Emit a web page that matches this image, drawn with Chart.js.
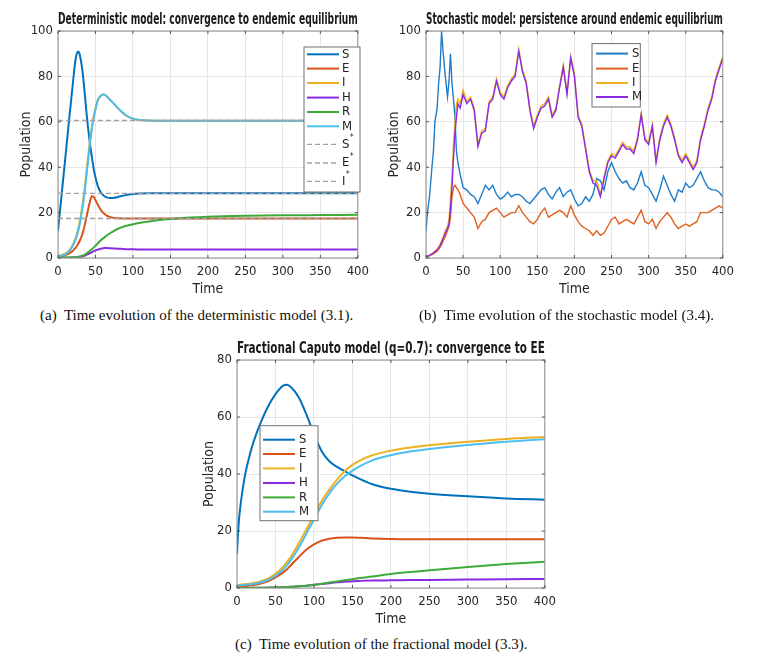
<!DOCTYPE html>
<html>
<head>
<meta charset="utf-8">
<script src="https://cdn.jsdelivr.net/npm/chart.js@4.4.1/dist/chart.umd.min.js"></script>
<style>
body { margin: 0; background: #fff; width: 772px; height: 657px; position: relative; overflow: hidden; }
.box { position: absolute; }
.cap { position: absolute; font-family: 'Liberation Serif', 'Times New Roman', serif; font-size: 15px; line-height: 17px; color: #111; white-space: pre; }
</style>
</head>
<body>
<div class="box" id="wa" style="left:0px;top:0px;width:375px;height:298px"><canvas id="ca"></canvas></div>
<div class="box" id="wb" style="left:368px;top:0px;width:372px;height:298px"><canvas id="cb"></canvas></div>
<div class="box" id="wc" style="left:179px;top:328.5px;width:383px;height:299px"><canvas id="cc"></canvas></div>
<div class="cap" style="left:40px;top:307px">(a)  Time evolution of the deterministic model (3.1).</div>
<div class="cap" style="left:419px;top:307px">(b)  Time evolution of the stochastic model (3.4).</div>
<div class="cap" style="left:235px;top:636px">(c)  Time evolution of the fractional model (3.3).</div>
<script>
// (a) deterministic model
const tA = [0,5,10,15,20,23,25,27,29,32,35,38,42,45,48,50,53,57,60,62,65,70,75,80,90,100,110,120,135,150,175,200,250,300,350,400];
const sA = [12,28.5,45,61.5,77.5,86.5,90,91,89.5,84,75,64,52,45,38.5,35.5,31.8,29,27.8,27.2,26.7,26.4,26.5,26.9,27.7,28.2,28.4,28.5,28.5,28.5,28.5,28.5,28.5,28.5,28.5,28.5];
const eA = [0.5,0.8,1.3,2,3.2,4.3,5.2,6.3,7.6,10,13.5,18,24,27.2,26.8,25.5,23.5,21.2,20,19.4,18.7,18,17.6,17.5,17.4,17.4,17.4,17.4,17.4,17.4,17.4,17.4,17.4,17.4,17.4,17.4];
const iA = [1,1.3,2,3.3,6,8.5,10.5,13,16,22,29,38,50,57.5,63,66,69.5,71.5,72,71.9,71.3,69.5,67.8,66,63,61.4,60.8,60.6,60.5,60.5,60.5,60.5,60.5,60.5,60.5,60.5];
const hA = [0.1,0.1,0.1,0.1,0.2,0.3,0.3,0.4,0.5,0.7,1,1.4,2,2.5,3,3.3,3.7,4.1,4.3,4.4,4.4,4.3,4.2,4.1,3.9,3.8,3.75,3.7,3.7,3.7,3.7,3.7,3.7,3.7,3.7,3.7];
const rA = [0.2,0.2,0.2,0.3,0.3,0.4,0.5,0.6,0.7,1,1.4,2,3,3.8,4.8,5.4,6.4,7.8,8.6,9.1,9.9,11,12,12.9,14.1,14.9,15.5,16,16.7,17.2,17.8,18.2,18.6,18.8,18.9,19];
const mA = [0.8,1.1,1.7,3,5.5,7.8,9.6,12,15,20.5,27.5,36.5,48.5,56.5,62.5,65.5,69.3,71.4,72,71.9,71.3,69.5,67.8,66,63,61.4,60.8,60.6,60.5,60.5,60.5,60.5,60.5,60.5,60.5,60.5];
const eqT = [0, 400];
const eqA = [28.5, 17.4, 60.6];   // S*, E*, I*

// (b) stochastic model
const tB = [0,2,5,8,10,12,15,17,19,21,23,26,29,31,33,35,37,39,41,43,46,50,
  55,60,65,70,75,80,85,90,95,100,105,110,115,120,125,130,135,140,145,150,155,160,165,170,175,180,185,190,195,200,
  205,210,215,220,225,230,235,240,245,250,255,260,265,270,275,280,285,290,295,300,305,310,315,320,325,330,335,340,345,350,
  355,360,365,370,375,380,385,390,395,400];
const sB = [12,20,28,40,47,60,66,77,84,100,91,80,71,78,90,77,70,62,47,42,37,31,
  30,28,27,24,28,32,30,32,28,26,27,29,27,28,28,27,25,24,26,28,30,31,28,26,29,31,27,29,30,26,
  23,24,27,25,28,35,34,30,38,42,38,35,33,34,31,30,33,38,32,31,28,25,30,36,32,28,25,30,29,33,
  31,32,35,38,34,31,30,30,29,27];
const eB = [0.4,0.6,1,1.5,1.8,2.3,3,3.8,4.8,6,7.5,9.5,12,14,18,27,31,32,31,30,28,24,
  22,20,18,13,16,17,20,21,22,20,18,19,20,20,23,20,18,16,15,17,20,22,18,19,20,21,20,18,23,19,
  16,14,13,12,10,12,10,11,14,17,18,15,16,17,16,15,18,21,16,15,17,13,16,18,20,18,15,13,14,15,
  14,15,16,20,20,20,21,22,23,22];
const iB = [0.6,0.9,1.3,2,2.4,3,3.8,4.8,6,7.5,9,12,14,17,26,36,50,60,68,70,68,74,
  69,71,66,50,56,57,69,71,79,73,71,76,79,81,92,83,78,66,58,63,67,68,71,63,66,76,85,73,89,81,
  63,59,49,39,34,34,28,36,43,46,45,48,51,49,49,47,53,64,53,51,59,43,53,59,63,59,53,46,43,46,
  43,40,43,53,59,66,71,79,84,89];
const mB = [0.5,0.8,1.2,1.8,2.2,2.8,3.5,4.5,5.5,7,8.5,11,13,15,22,31,44,55,62,68,66,72,
  68,70,65,49,55,56,68,70,78,72,70,75,78,80,91,82,77,65,57,62,66,67,70,62,65,75,84,72,88,80,
  62,58,48,38,33,32,27,35,42,45,44,47,50,48,48,46,52,63,52,50,58,42,52,58,62,58,52,45,42,45,
  42,39,42,52,58,65,70,78,83,88];

// (c) fractional Caputo model, q = 0.7
const tC = [0,2,5,10,15,20,25,30,40,50,60,65,70,80,90,100,110,120,130,140,150,160,175,200,225,250,300,350,400];
const sC = [12,22,30,39,45,50,54,57.5,63.5,68,71,71.3,70.5,67,61,54,48,44.5,42.5,41,39.5,38.2,36.5,34.8,33.8,33.1,32.2,31.4,31];
const eC = [0.5,0.5,0.6,0.7,0.8,1,1.2,1.5,2.3,3.7,5.5,6.6,8,10.8,13.4,15.3,16.6,17.3,17.6,17.7,17.7,17.6,17.4,17.2,17.1,17.1,17.1,17.1,17.1];
const iC = [1,1.1,1.2,1.3,1.5,1.7,1.9,2.3,3.3,5,7.5,9.2,11,15.5,20.5,25.5,30.5,34.5,38,41,43.2,44.8,46.5,48.2,49.3,50.1,51.3,52.3,53];
const hC = [0,0,0,0,0,0.05,0.05,0.05,0.1,0.2,0.3,0.35,0.4,0.6,0.8,1.1,1.4,1.7,2,2.2,2.4,2.5,2.6,2.7,2.8,2.85,2.95,3.05,3.2];
const rC = [0,0,0,0,0.05,0.05,0.1,0.1,0.15,0.2,0.3,0.35,0.4,0.6,0.8,1.1,1.5,1.9,2.3,2.7,3.1,3.5,4,4.9,5.6,6.2,7.4,8.4,9.2];
const mC = [0.8,0.9,1,1.1,1.2,1.4,1.6,1.9,2.8,4.3,6.5,8,9.8,14,19,24,29,33.2,36.6,39.2,41.2,42.8,44.7,46.6,47.9,48.8,50.2,51.3,52.2];

const xTicks = [0, 400, 50];
const FONT = "'Liberation Sans Narrow', 'DejaVu Sans Condensed', 'Liberation Sans', sans-serif";
const C = { S: '#0072BD', E: '#D95319', I: '#EDB120', H: '#8A2BE2', R: '#3DAA3A', M: '#4DBEEE', eq: '#a0a0a0' };

function pts(t, v) { return t.map((x, k) => ({ x: x, y: v[k] })); }

function line(label, t, v, color, w, extra) {
    return Object.assign({
        label: label, data: pts(t, v), borderColor: color, backgroundColor: color,
        borderWidth: w, pointRadius: 0, fill: false, cubicInterpolationMode: 'monotone'
    }, extra || {});
}

// later series drawn on top, as in MATLAB
function stack(list) {
    list.forEach((ds, i) => { ds.order = -i; });
    return list;
}

// frame with inward ticks round the axes, and a legend box inside the plot
const boxLegend = {
    id: 'boxLegend',
    afterDatasetsDraw(chart, args, o) {
        const { ctx, chartArea: a, scales } = chart;
        ctx.save();
        ctx.strokeStyle = '#8c8c8c';
        ctx.lineWidth = 1;
        ctx.strokeRect(a.left, a.top, a.right - a.left, a.bottom - a.top);
        ctx.strokeStyle = '#555';
        ctx.beginPath();
        scales.x.ticks.forEach(t => {
            const px = scales.x.getPixelForValue(t.value);
            ctx.moveTo(px, a.bottom); ctx.lineTo(px, a.bottom - 3);
            ctx.moveTo(px, a.top); ctx.lineTo(px, a.top + 3);
        });
        scales.y.ticks.forEach(t => {
            const py = scales.y.getPixelForValue(t.value);
            ctx.moveTo(a.left, py); ctx.lineTo(a.left + 3, py);
            ctx.moveTo(a.right, py); ctx.lineTo(a.right - 3, py);
        });
        ctx.stroke();

        const x0 = a.left + o.x, y0 = a.top + o.y;
        ctx.fillStyle = '#fff';
        ctx.fillRect(x0, y0, o.w, o.h);
        ctx.strokeStyle = '#707070';
        ctx.lineWidth = 1;
        ctx.strokeRect(x0, y0, o.w, o.h);
        ctx.font = '13px ' + FONT;
        ctx.textBaseline = 'middle';
        chart.data.datasets.forEach((ds, i) => {
            const cy = y0 + o.rows[i];
            ctx.strokeStyle = ds.borderColor;
            ctx.lineWidth = o.lw || ds.borderWidth;
            ctx.setLineDash(ds.borderDash || []);
            ctx.beginPath();
            ctx.moveTo(x0 + o.l1, cy);
            ctx.lineTo(x0 + o.l2, cy);
            ctx.stroke();
            ctx.setLineDash([]);
            ctx.fillStyle = '#222';
            let txt = ds.label;
            if (txt.endsWith('*')) {
                txt = txt.slice(0, -1);
                ctx.fillText(txt, x0 + o.tx, cy);
                const wd = ctx.measureText(txt).width;
                ctx.font = '8px ' + FONT;
                ctx.fillText('*', x0 + o.tx + wd + 0.5, cy - 6);
                ctx.font = '13px ' + FONT;
            } else {
                ctx.fillText(txt, x0 + o.tx, cy);
            }
        });
        ctx.restore();
    }
};

function makeChart(id, title, datasets, yMax, legend, yPad) {
    return new Chart(document.getElementById(id), {
        type: 'line',
        data: { datasets: stack(datasets) },
        plugins: [boxLegend],
        options: {
            responsive: true,
            maintainAspectRatio: false,
            animation: false,
            layout: { padding: { left: 0, right: 14, top: 0, bottom: 0 } },
            plugins: {
                legend: { display: false },
                tooltip: { enabled: false },
                title: {
                    display: true, text: title, fullSize: false, color: '#1a1a1a',
                    font: { family: FONT, size: 15, weight: 'bold' },
                    padding: { top: 11, bottom: 2 }
                },
                boxLegend: legend
            },
            scales: {
                x: {
                    type: 'linear', min: xTicks[0], max: xTicks[1],
                    ticks: { stepSize: xTicks[2], color: '#262626', padding: 6, font: { family: FONT, size: 13 } },
                    grid: { color: '#e6e6e6', drawTicks: false },
                    border: { display: false },
                    title: { display: true, text: 'Time', color: '#262626', font: { family: FONT, size: 14 }, padding: { top: 0, bottom: 0 } },
                    afterFit: s => { s.height = 40; }
                },
                y: {
                    min: 0, max: yMax,
                    ticks: { stepSize: 20, color: '#262626', padding: 5, font: { family: FONT, size: 13 } },
                    grid: { color: '#e6e6e6', drawTicks: false },
                    border: { display: false },
                    title: { display: true, text: 'Population', color: '#262626', font: { family: FONT, size: 14 }, padding: { top: yPad, bottom: 0 } },
                    afterFit: s => { s.width = 58; }
                }
            }
        }
    });
}

const dashed = { borderDash: [5, 3], cubicInterpolationMode: 'default' };
makeChart('ca', 'Deterministic model: convergence to endemic equilibrium', [
    line('S', tA, sA, C.S, 2),
    line('E', tA, eA, C.E, 2),
    line('I', tA, iA, C.I, 2),
    line('H', tA, hA, C.H, 2),
    line('R', tA, rA, C.R, 2),
    line('M', tA, mA, C.M, 2),
    line('S*', eqT, [eqA[0], eqA[0]], C.eq, 1.3, dashed),
    line('E*', eqT, [eqA[1], eqA[1]], C.eq, 1.3, dashed),
    line('I*', eqT, [eqA[2], eqA[2]], C.eq, 1.3, dashed)
], 100, { x: 246, y: 16, w: 56, h: 145, l1: 3, l2: 35, tx: 38, rows: [7.3, 21.6, 36, 50.6, 65, 79.3, 97.3, 116, 134.3] }, 17.6);

const thin = { cubicInterpolationMode: 'default' };
makeChart('cb', 'Stochastic model: persistence around endemic equilibrium', [
    line('S', tB, sB, '#1f7cc8', 1.4, thin),
    line('E', tB, eB, '#e0601e', 1.4, thin),
    line('I', tB, iB, C.I, 1.4, thin),
    line('M', tB, mB, C.H, 1.4, thin)
], 100, { x: 166, y: 12.6, w: 48.3, h: 63.4, l1: 4, l2: 36, tx: 40, lw: 2, rows: [10, 25, 39.4, 53.4] }, 17.6);

makeChart('cc', 'Fractional Caputo model (q=0.7): convergence to EE', [
    line('S', tC, sC, C.S, 2),
    line('E', tC, eC, C.E, 2),
    line('I', tC, iC, C.I, 2),
    line('H', tC, hC, C.H, 2),
    line('R', tC, rC, C.R, 2),
    line('M', tC, mC, C.M, 2)
], 80, { x: 23, y: 65.7, w: 58, h: 95, l1: 3, l2: 35, tx: 39, rows: [14, 28.3, 42.7, 57.3, 71.7, 86] }, 22);
</script>
</body>
</html>
